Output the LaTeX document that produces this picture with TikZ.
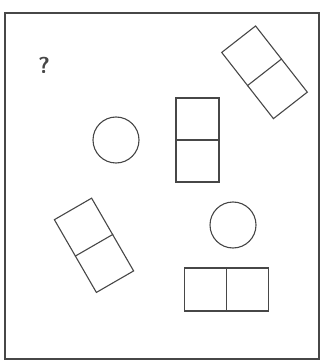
\documentclass[tikz,border=0pt]{standalone}
\usetikzlibrary{shapes.geometric}
\begin{document}
\begin{tikzpicture}[x=1pt,y=-1pt,
  ink/.style={draw=black!72, line width=1.1pt},
  domino/.style={ink, rectangle, minimum width=43pt, minimum height=84pt, inner sep=0pt},
  disc/.style={ink, circle, minimum size=46pt, inner sep=0pt}]
\useasboundingbox (0,0) rectangle (324,363);
\node[ink, rectangle, minimum width=314pt, minimum height=346pt, inner sep=0pt, line width=1.3pt] (frame) at (162,186) {};
\node[text=black!72, font=\sffamily\bfseries\fontsize{23}{23}\selectfont, inner sep=0pt] (q) at (44,65) {?};
\node[disc] (c1) at (116,140) {};
\node[disc] (c2) at (233,225) {};
\node[domino] (dv) at (197.5,140) {};
\draw[ink] (dv.west) -- (dv.east);
\node[domino, rotate=38] (dtr) at (264.5,72.3) {};
\draw[ink] (dtr.west) -- (dtr.east);
\node[domino, rotate=30] (dll) at (94,245.3) {};
\draw[ink] (dll.west) -- (dll.east);
\node[domino, rotate=90] (dh) at (226.5,289.5) {};
\draw[ink] (dh.west) -- (dh.east);
\end{tikzpicture}
\end{document}
